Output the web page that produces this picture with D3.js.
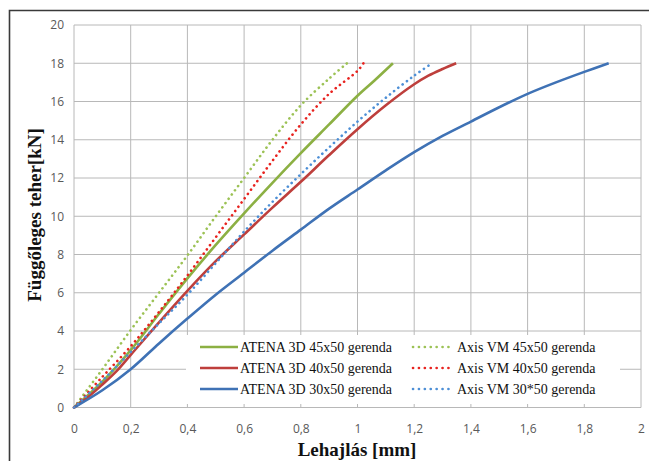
<!DOCTYPE html>
<html>
<head>
<meta charset="utf-8">
<script src="https://cdn.jsdelivr.net/npm/d3@7"></script>
<style>
  body { margin: 0; background: #fff; }
  .tick text { font-family: "Open Sans", "Liberation Sans", sans-serif; font-size: 12px; fill: #595959; }
  .legend text { font-family: "Liberation Serif", serif; font-size: 14px; fill: #111; }
  .title { font-family: "Liberation Serif", serif; font-weight: bold; fill: #111; }
</style>
</head>
<body>
<div id="vis"></div>
<script>
// load / deflection data (x in mm, y in kN)
var atena45 = [[0,0],[0.1,1.35],[0.2,3.0],[0.3,4.9],[0.4,6.75],[0.5,8.5],[0.6,10.15],[0.7,11.75],[0.8,13.3],[0.9,14.8],[1.0,16.3],[1.06,17.1],[1.125,18]];
var atena40 = [[0,0],[0.05,0.55],[0.1,1.2],[0.15,1.9],[0.2,2.75],[0.3,4.45],[0.4,6.1],[0.5,7.65],[0.6,9.05],[0.7,10.45],[0.8,11.8],[0.9,13.2],[1.0,14.55],[1.1,15.8],[1.2,16.9],[1.25,17.35],[1.3,17.7],[1.348,18]];
var atena30 = [[0,0],[0.1,0.9],[0.2,2.0],[0.3,3.35],[0.4,4.65],[0.5,5.9],[0.6,7.05],[0.7,8.2],[0.8,9.3],[0.9,10.4],[1.0,11.4],[1.1,12.4],[1.2,13.35],[1.3,14.2],[1.4,14.95],[1.5,15.7],[1.6,16.4],[1.7,17.0],[1.8,17.55],[1.886,18]];
var axis45 = [[0,0],[0.1,2.0],[0.2,4.05],[0.3,6.0],[0.4,7.95],[0.5,10.0],[0.6,12.0],[0.7,14.0],[0.8,15.8],[0.9,17.2],[0.963,18]];
var axis40 = [[0,0],[0.1,1.6],[0.2,3.2],[0.3,5.0],[0.4,6.9],[0.5,8.9],[0.6,10.9],[0.7,12.9],[0.8,14.8],[0.9,16.4],[1.0,17.6],[1.021,18]];
var axis30 = [[0,0],[0.1,1.4],[0.2,2.9],[0.3,4.4],[0.4,5.9],[0.5,7.55],[0.6,9.2],[0.7,10.75],[0.8,12.2],[0.9,13.6],[1.0,14.95],[1.1,16.2],[1.2,17.35],[1.263,18]];

var xTicks = [0, 0.2, 0.4, 0.6, 0.8, 1, 1.2, 1.4, 1.6, 1.8, 2];
var yTicks = [0, 2, 4, 6, 8, 10, 12, 14, 16, 18, 20];

var series = [
    { name: 'ATENA 3D 45x50 gerenda', data: atena45, color: '#8cb043', dotted: false },
    { name: 'ATENA 3D 40x50 gerenda', data: atena40, color: '#be3f3c', dotted: false },
    { name: 'ATENA 3D 30x50 gerenda', data: atena30, color: '#3f72b5', dotted: false },
    { name: 'Axis VM 45x50 gerenda', data: axis45, color: '#9cc255', dotted: true },
    { name: 'Axis VM 40x50 gerenda', data: axis40, color: '#e8231f', dotted: true },
    { name: 'Axis VM 30*50 gerenda', data: axis30, color: '#4d8fd6', dotted: true }
];

var width = 649, height = 461;
var margin = { top: 25, left: 74 };
var drawWidth = 641 - margin.left,
    drawHeight = 407.5 - margin.top;

var svg = d3.select('#vis').append('svg')
    .attr('width', width)
    .attr('height', height);

// outer frame (runs off the right and bottom edge)
svg.append('path')
    .attr('d', 'M9.5,' + height + ' V10.5 H' + width)
    .attr('fill', 'none')
    .attr('stroke', '#3a3a3a')
    .attr('stroke-width', 1.6);

var g = svg.append('g')
    .attr('transform', 'translate(' + margin.left + ',' + margin.top + ')');

var xScale = d3.scaleLinear().domain([0, 2]).range([0, drawWidth]);
var yScale = d3.scaleLinear().domain([0, 20]).range([drawHeight, 0]);

// gridlines
g.selectAll('.vgrid').data(xTicks).enter().append('line')
    .attr('x1', function(d) { return xScale(d); })
    .attr('x2', function(d) { return xScale(d); })
    .attr('y1', 0).attr('y2', drawHeight)
    .attr('stroke', '#b8b8b8').attr('stroke-width', 1);
g.selectAll('.hgrid').data(yTicks).enter().append('line')
    .attr('x1', 0).attr('x2', drawWidth)
    .attr('y1', function(d) { return yScale(d); })
    .attr('y2', function(d) { return yScale(d); })
    .attr('stroke', '#b8b8b8').attr('stroke-width', 1);

var fmt = function(d) { return String(d).replace('.', ','); };

var xAxis = d3.axisBottom(xScale).tickValues(xTicks).tickFormat(fmt).tickSize(0).tickPadding(17);
var yAxis = d3.axisLeft(yScale).tickValues(yTicks).tickFormat(fmt).tickSize(0).tickPadding(10);

g.append('g').attr('transform', 'translate(0,' + drawHeight + ')').call(xAxis)
    .call(function(s) { s.select('.domain').remove(); });
g.append('g').call(yAxis)
    .call(function(s) { s.select('.domain').remove(); });

// legend box with white background over the grid
var legend = svg.append('g').attr('class', 'legend');
legend.append('rect')
    .attr('x', 186).attr('y', 335)
    .attr('width', 434).attr('height', 69)
    .attr('fill', '#fff');

var line = d3.line()
    .x(function(d) { return xScale(d[0]); })
    .y(function(d) { return yScale(d[1]); })
    .curve(d3.curveCatmullRom.alpha(0.5));

g.selectAll('.series').data(series).enter().append('path')
    .attr('d', function(d) { return line(d.data); })
    .attr('fill', 'none')
    .attr('stroke', function(d) { return d.color; })
    .attr('stroke-width', 2.6)
    .attr('stroke-linecap', function(d) { return d.dotted ? 'round' : 'butt'; })
    .attr('stroke-dasharray', function(d) { return d.dotted ? '0.1,5.2' : null; });

var items = legend.selectAll('.item').data(series).enter().append('g')
    .attr('transform', function(d, i) {
        var col = Math.floor(i / 3), row = i % 3;
        return 'translate(' + (col === 0 ? 200 : 413) + ',' + (347 + row * 21) + ')';
    });
items.append('line')
    .attr('x1', 0).attr('x2', function(d) { return d.dotted ? 36 : 38; })
    .attr('y1', 0).attr('y2', 0)
    .attr('stroke', function(d) { return d.color; })
    .attr('stroke-width', 2.6)
    .attr('stroke-linecap', function(d) { return d.dotted ? 'round' : 'butt'; })
    .attr('stroke-dasharray', function(d) { return d.dotted ? '0.1,5.8' : null; });
items.append('text')
    .attr('x', function(d) { return d.dotted ? 44 : 40; })
    .attr('y', 4.5)
    .text(function(d) { return d.name; });

// axis titles
svg.append('text').attr('class', 'title')
    .attr('x', 357).attr('y', 456)
    .attr('text-anchor', 'middle')
    .style('font-size', '19px')
    .text('Lehajlás [mm]');
svg.append('text').attr('class', 'title')
    .attr('transform', 'translate(41,215) rotate(-90)')
    .attr('text-anchor', 'middle')
    .style('font-size', '19px')
    .text('Függőleges teher[kN]');
</script>
</body>
</html>
